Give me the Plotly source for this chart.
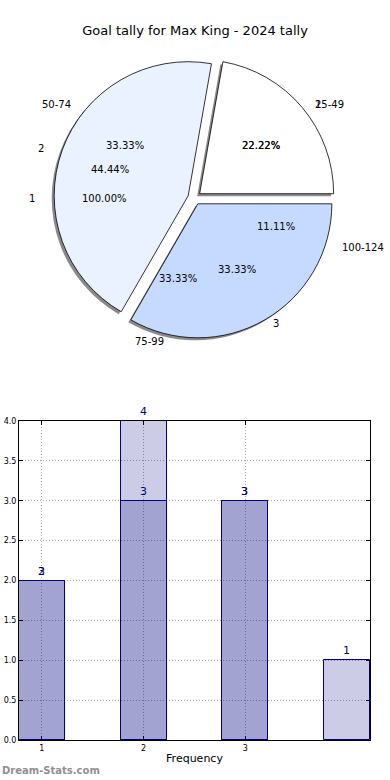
import math
import plotly.graph_objects as go

# ---------------- data ----------------
title_text = "Goal tally for Max King - 2024 tally"

pie_categories = ["25-49", "50-74", "75-99", "100-124"]
pie_counts_a = [2, 3, 3, 1]            # pie carrying the goal-range labels
pie_labels_b = ["1", "2", "3"]
pie_counts_b = [2, 4, 3]               # pie drawn on top (visible wedges)
pie_labels_c = ["1"]
pie_counts_c = [1]
pie_colors = ["#FFFFFF", "#EBF2FF", "#C6D9FF", "#A9C4F5"]

bar_x = [1, 2, 3, 4]
bar_values_a = [2, 4, 3, 1]
bar_text_a = ["2", "4", "3", "1"]
bar_x_b = [1, 2, 3]
bar_values_b = [2, 3, 3]
bar_text_b = ["3", "3", "3"]
x_tick_vals = [1, 2, 3]
x_tick_text = ["1", "2", "3"]
y_tick_vals = [0, 0.5, 1, 1.5, 2, 2.5, 3, 3.5, 4]
x_title = "Frequency"
watermark = "Dream-Stats.com"

# ---------------- layout geometry ----------------
W, H = 390, 780
EXPLODE = 0.05
PIE_CX, PIE_CY = 194.5, 198                      # pixel centre
PIE_R = 134                                      # wedge radius in pixels
PIE_EXT = PIE_R * (1 + EXPLODE)
pie_dom_x = [(PIE_CX - PIE_EXT) / W, (PIE_CX + PIE_EXT) / W]
pie_dom_y = [(H - PIE_CY - PIE_EXT) / H, (H - PIE_CY + PIE_EXT) / H]
SHADOW_DX, SHADOW_DY = -2.5, 2.5
shadow_dom_x = [v + SHADOW_DX / W for v in pie_dom_x]
shadow_dom_y = [v - SHADOW_DY / H for v in pie_dom_y]
# text layer: the original pie was slightly elliptical
TXT_CX = 193
TXT_RX, TXT_RY = 136.0, 126.5
TEXT_TOP_PX = 390
text_dom_y = [(H - TEXT_TOP_PX) / H, 1.0]
text_range_x = [(0 - TXT_CX) / TXT_RX, (W - TXT_CX) / TXT_RX]
text_range_y = [(PIE_CY - TEXT_TOP_PX) / TXT_RY, PIE_CY / TXT_RY]

FONT = "DejaVu Sans"
NAVY = "#000080"

# plotly (counterclockwise) puts the first slice clockwise of `rotation`;
# make the first slice start at 3 o'clock like matplotlib's startangle=0
rotation_b = 90 - 360.0 * pie_counts_b[0] / sum(pie_counts_b)

fig = go.Figure()

# shadow
fig.add_trace(go.Pie(
    values=pie_counts_b, labels=pie_categories[:3], sort=False,
    direction="counterclockwise", rotation=rotation_b, pull=EXPLODE,
    marker=dict(colors=["rgba(60,60,60,0.6)"] * 3, line=dict(width=0)),
    textinfo="none", hoverinfo="skip", showlegend=False,
    domain=dict(x=shadow_dom_x, y=shadow_dom_y),
))
# visible wedges
fig.add_trace(go.Pie(
    values=pie_counts_b, labels=pie_categories[:3], sort=False,
    direction="counterclockwise", rotation=rotation_b, pull=EXPLODE,
    marker=dict(colors=pie_colors[:3], line=dict(color="#000000", width=0.8)),
    textinfo="none", hoverinfo="label+percent", showlegend=False,
    domain=dict(x=pie_dom_x, y=pie_dom_y),
))


def pie_texts(counts, labels):
    total = float(sum(counts))
    out = []
    t1 = 0.0
    for c, lab in zip(counts, labels):
        t2 = t1 + 360.0 * c / total
        tm = math.radians((t1 + t2) / 2)
        ox, oy = EXPLODE * math.cos(tm), EXPLODE * math.sin(tm)
        lx, ly = ox + 1.1 * math.cos(tm), oy + 1.1 * math.sin(tm)
        px, py = ox + 0.6 * math.cos(tm), oy + 0.6 * math.sin(tm)
        out.append((lab, lx, ly, "%.2f%%" % (100.0 * c / total), px, py))
        t1 = t2
    return out


all_texts = (pie_texts(pie_counts_c, pie_labels_c)
             + pie_texts(pie_counts_a, pie_categories)
             + pie_texts(pie_counts_b, pie_labels_b))

annotations = []
for lab, lx, ly, pct, px, py in all_texts:
    annotations.append(dict(
        text=lab, xref="x2", yref="y2", x=lx, y=ly,
        xanchor="left" if lx > 0 else "right", yanchor="middle",
        showarrow=False, font=dict(family=FONT, size=10, color="#000000")))
    annotations.append(dict(
        text=pct, xref="x2", yref="y2", x=px, y=py,
        xanchor="center", yanchor="middle",
        showarrow=False, font=dict(family=FONT, size=10, color="#000000")))

annotations.append(dict(
    text=watermark, xref="paper", yref="paper", x=0, y=(H - 770) / H,
    xanchor="left", yanchor="middle", showarrow=False,
    font=dict(family=FONT, size=10, color="#8F8F8F", weight="bold")))

# ---------------- bars ----------------
bar_fill = "rgba(0,0,128,0.2)"
fig.add_trace(go.Bar(
    x=bar_x, y=bar_values_a, width=0.45, text=bar_text_a,
    textposition="outside", constraintext="none", cliponaxis=False,
    textfont=dict(family=FONT, size=11, color=NAVY),
    marker=dict(color=bar_fill, line=dict(color=NAVY, width=1)),
    showlegend=False,
))
fig.add_trace(go.Bar(
    x=bar_x_b, y=bar_values_b, width=0.45, text=bar_text_b,
    textposition="outside", constraintext="none", cliponaxis=False,
    textfont=dict(family=FONT, size=11, color=NAVY),
    marker=dict(color=bar_fill, line=dict(color=NAVY, width=1)),
    showlegend=False,
))

bar_dom_x = [19 / W, 370 / W]
bar_dom_y = [(H - 740) / H, (H - 421) / H]

axis_common = dict(
    ticks="inside", ticklen=4, tickcolor="#000000",
    showline=True, linecolor="#000000", linewidth=1, mirror="ticks",
    showgrid=True, gridcolor="#A8A8A8", griddash="1px,2px", gridwidth=1,
    zeroline=False, tickfont=dict(family=FONT, size=8, color="#000000"),
    fixedrange=True, automargin=False,
)

fig.update_layout(
    width=W, height=H, autosize=False,
    margin=dict(l=0, r=0, t=0, b=0),
    paper_bgcolor="#FFFFFF", plot_bgcolor="#FFFFFF",
    barmode="overlay", bargap=0,
    font=dict(family=FONT, color="#000000"),
    title=dict(text=title_text, x=0.5, xanchor="center", y=1 - 30 / H,
               yanchor="middle", font=dict(family=FONT, size=13, color="#000000")),
    xaxis=dict(domain=bar_dom_x, range=[0.775, 4.225], tickvals=x_tick_vals,
               ticktext=x_tick_text,
               title=dict(text=x_title, standoff=2,
                          font=dict(family=FONT, size=11, color="#000000")),
               anchor="y", **axis_common),
    yaxis=dict(domain=bar_dom_y, range=[0, 4], tickvals=y_tick_vals,
               tickformat=".1f", anchor="x", **axis_common),
    xaxis2=dict(domain=[0, 1], range=text_range_x, visible=False,
                anchor="y2", fixedrange=True),
    yaxis2=dict(domain=text_dom_y, range=text_range_y, visible=False,
                anchor="x2", fixedrange=True),
    annotations=annotations,
)

# the page's default 8px body margin would shift the figure; remove it
fig.write_html("out.html",
               config={"displayModeBar": False},
               post_script="document.body.style.margin='0px';"
                           "document.body.style.overflow='hidden';")
